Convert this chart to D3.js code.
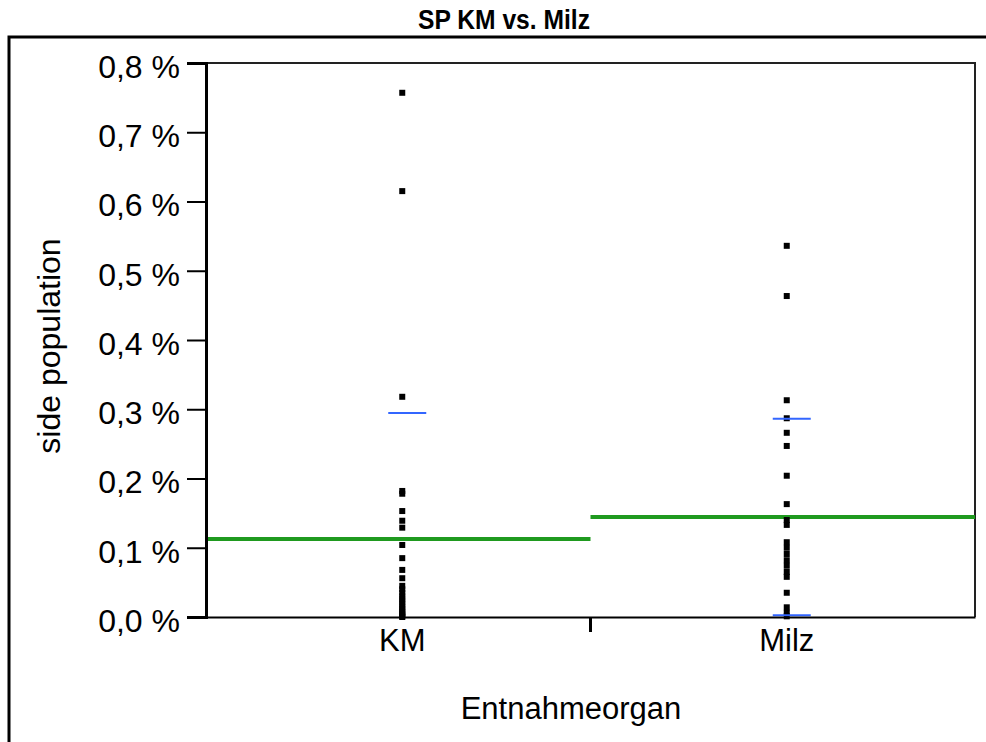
<!DOCTYPE html>
<html>
<head>
<meta charset="utf-8">
<script src="https://cdn.jsdelivr.net/npm/d3@7"></script>
<style>
  body { margin: 0; background: #fff; }
  svg { display: block; font-family: Arial, "Liberation Sans", sans-serif; }
</style>
</head>
<body>
<svg id="chart" width="986" height="742"></svg>
<script>
// groups on the x axis
let categories = ["KM", "Milz"];

// side population (%) per sample
let kmValues = [0.757, 0.615, 0.318, 0.182, 0.178, 0.153, 0.139, 0.129, 0.104, 0.085, 0.068, 0.056,
    0.045, 0.040, 0.035, 0.030, 0.026, 0.022, 0.018, 0.014, 0.011, 0.008, 0.005, 0.003, 0.001, 0.000];
let milzValues = [0.536, 0.4635, 0.313, 0.287, 0.266, 0.247, 0.204, 0.163, 0.140, 0.133, 0.108, 0.100,
    0.091, 0.082, 0.074, 0.065, 0.058, 0.035, 0.014, 0.006, 0.001];

// group mean (green) and standard deviation (blue marks)
let groupMeans = [0.1126, 0.1444];
let groupSd = [0.182, 0.142];

let yTicks = [0, 0.1, 0.2, 0.3, 0.4, 0.5, 0.6, 0.7, 0.8];

let svg = d3.select("#chart");
let plot = {left: 206, right: 975, top: 63, bottom: 617};

let x = d3.scaleBand().domain(categories).range([plot.left, plot.right]);
let y = d3.scaleLinear().domain([0, 0.8]).range([plot.bottom, plot.top]);
let pointShift = 4;
let sdShift = 9;
let sdHalf = 19;

// outer frame, runs off the page on the right and bottom
svg.append("rect")
    .attr("x", 9).attr("y", 37)
    .attr("width", 1100).attr("height", 900)
    .attr("fill", "none")
    .attr("stroke", "black")
    .attr("stroke-width", 3);

// narrow bold title, squeezed to the reference width
svg.append("text")
    .attr("x", 504).attr("y", 29)
    .attr("text-anchor", "middle")
    .attr("textLength", 172)
    .attr("lengthAdjust", "spacingAndGlyphs")
    .style("font-size", "27px")
    .style("font-weight", "bold")
    .text("SP KM vs. Milz");

// plot frame (top + right)
svg.append("path")
    .attr("d", "M" + plot.left + "," + plot.top + "H" + plot.right + "V" + plot.bottom)
    .attr("fill", "none")
    .attr("stroke", "#222")
    .attr("stroke-width", 2);

// mean lines across each group's band
categories.forEach((c, i) => {
    svg.append("line")
        .attr("x1", x(c)).attr("x2", x(c) + x.bandwidth())
        .attr("y1", y(groupMeans[i])).attr("y2", y(groupMeans[i]))
        .attr("stroke", "#1f9a1f")
        .attr("stroke-width", 4);
});

// points
let series = [kmValues, milzValues];
series.forEach((vals, i) => {
    let cx = x(categories[i]) + x.bandwidth() / 2 + pointShift;
    svg.append("g").selectAll("rect")
        .data(vals)
        .join("rect")
        .attr("x", cx - 3)
        .attr("y", d => y(d) - 3)
        .attr("width", 6)
        .attr("height", 6)
        .attr("fill", "black");
});

// mean +/- sd marks
categories.forEach((c, i) => {
    let cx = x(c) + x.bandwidth() / 2 + sdShift;
    [groupMeans[i] + groupSd[i], groupMeans[i] - groupSd[i]]
        .filter(v => v >= 0 && v <= 0.8)
        .forEach(v => {
            svg.append("line")
                .attr("x1", cx - sdHalf).attr("x2", cx + sdHalf)
                .attr("y1", y(v)).attr("y2", y(v))
                .attr("stroke", "#3366ff")
                .attr("stroke-width", 2);
        });
});

// y axis
let yAxis = svg.append("g")
    .attr("transform", "translate(" + plot.left + ",0)")
    .call(d3.axisLeft(y).tickValues(yTicks).tickSize(19).tickPadding(7)
        .tickFormat(d => d3.format(".1f")(d).replace(".", ",") + " %"));
yAxis.select(".domain").attr("stroke-width", 3);
yAxis.selectAll(".tick line").attr("stroke-width", 2);
yAxis.selectAll("text")
    .attr("dy", "0.45em")
    .style("font-size", "32px")
    .style("font-family", "Arial, 'Liberation Sans', sans-serif")
    .attr("fill", "black");

// x axis
let xAxis = svg.append("g")
    .attr("transform", "translate(0," + plot.bottom + ")")
    .call(d3.axisBottom(x).tickSize(0).tickPadding(12).tickSizeOuter(0));
xAxis.select(".domain").attr("stroke-width", 2);
xAxis.selectAll(".tick").attr("transform", d => "translate(" + (x(d) + x.bandwidth() / 2 + pointShift) + ",0)");
xAxis.selectAll("text")
    .style("font-size", "31px")
    .style("font-family", "Arial, 'Liberation Sans', sans-serif")
    .attr("fill", "black");

// separator tick between the groups
svg.append("line")
    .attr("x1", x("Milz")).attr("x2", x("Milz"))
    .attr("y1", plot.bottom).attr("y2", plot.bottom + 15)
    .attr("stroke", "black")
    .attr("stroke-width", 3);

svg.append("text")
    .attr("x", 571).attr("y", 719)
    .attr("text-anchor", "middle")
    .style("font-size", "31px")
    .text("Entnahmeorgan");

svg.append("text")
    .attr("transform", "translate(60," + ((plot.top + plot.bottom) / 2 + 6) + ") rotate(-90)")
    .attr("text-anchor", "middle")
    .style("font-size", "32px")
    .text("side population");
</script>
</body>
</html>
